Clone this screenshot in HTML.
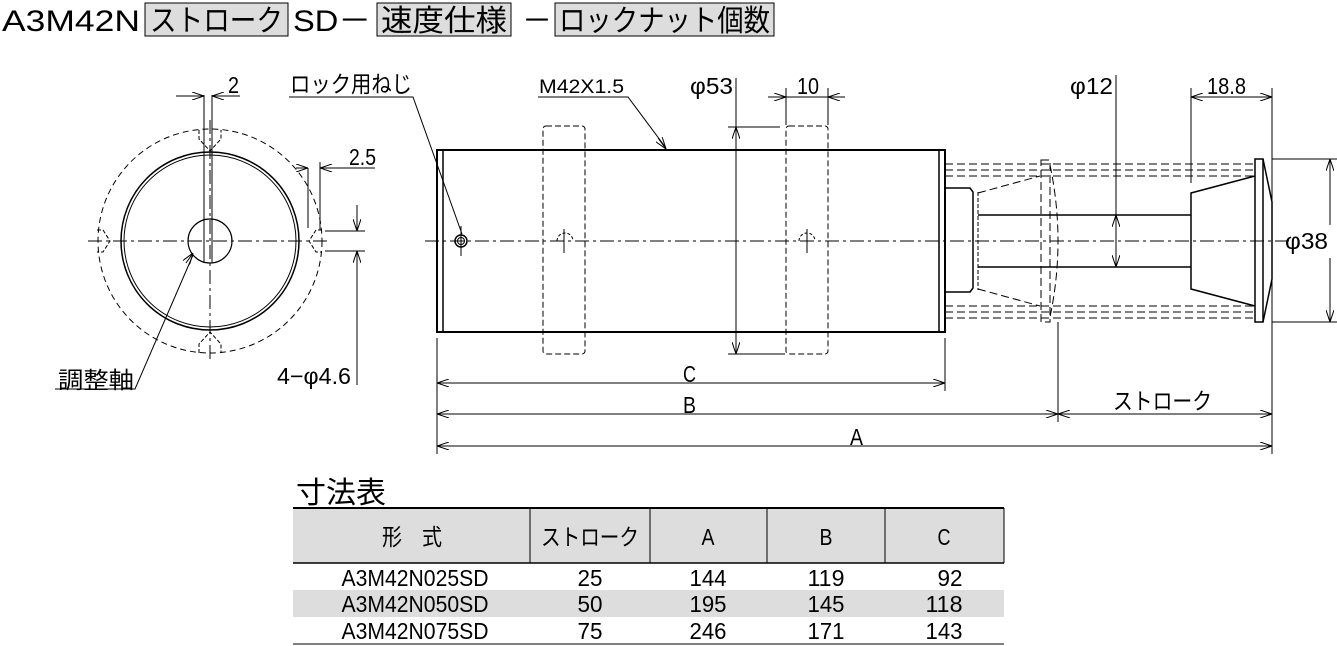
<!DOCTYPE html>
<html><head><meta charset="utf-8"><style>
html,body{margin:0;padding:0;background:#fff;}
svg{display:block;}
text{font-family:"Liberation Sans","Noto Sans CJK JP",sans-serif;fill:#000;}
</style></head><body>
<svg width="1337" height="646" viewBox="0 0 1337 646" xmlns="http://www.w3.org/2000/svg">
<defs>
<marker id="ar" viewBox="0 0 12 8" refX="12" refY="4" markerWidth="12" markerHeight="8" orient="auto-start-reverse" markerUnits="userSpaceOnUse"><path d="M0,0 L12,4 L0,8" fill="none" stroke="#000" stroke-width="1"/></marker>
</defs>
<rect x="145" y="3" width="143" height="33" fill="#ddd" stroke="#000"/>
<rect x="377" y="3" width="134" height="33" fill="#ddd" stroke="#000"/>
<rect x="555" y="3" width="219" height="33" fill="#ddd" stroke="#000"/>
<g font-size="30">
<text x="2" y="31" textLength="138" lengthAdjust="spacingAndGlyphs">A3M42N</text>
<text x="150" y="31" textLength="133" lengthAdjust="spacingAndGlyphs">ストローク</text>
<text x="293" y="31" textLength="78" lengthAdjust="spacingAndGlyphs">SD－</text>
<text x="381" y="31" textLength="126" lengthAdjust="spacingAndGlyphs">速度仕様</text>
<text x="522" y="31">－</text>
<text x="559" y="31" textLength="211" lengthAdjust="spacingAndGlyphs">ロックナット個数</text>
</g>

<g fill="none" stroke="#000" stroke-width="1">
<circle cx="210" cy="241" r="112" stroke-dasharray="6,4"/>
<circle cx="210" cy="241" r="89" stroke-width="1.5"/>
<circle cx="210" cy="241" r="86" stroke-width="1"/>
<circle cx="210" cy="241" r="22" stroke-width="1.2"/>
<line x1="204" y1="220" x2="204" y2="262"/><line x1="212" y1="220" x2="212" y2="262"/>
<line x1="210" y1="120" x2="210" y2="360" stroke-dasharray="14,4,3,4"/>
<line x1="88" y1="241" x2="330" y2="241" stroke-dasharray="14,4,3,4"/>
<line x1="204" y1="95" x2="204" y2="230"/><line x1="212" y1="95" x2="212" y2="230"/>
<path d="M199,130 v9 l11,12 l11,-12 v-9" stroke-dasharray="4,2"/>
<path d="M199,353 v-9 l11,-12 l11,12 v9" stroke-dasharray="4,2"/>
<path d="M97,230 h6 l7,11 l-7,11 h-6" stroke-dasharray="4,2"/>
<path d="M322,230 h-6 l-7,11 l7,11 h6" stroke-dasharray="4,2"/>
<line x1="176" y1="96" x2="204" y2="96" marker-end="url(#ar)"/>
<line x1="240" y1="96" x2="212" y2="96" marker-end="url(#ar)"/>
<line x1="296" y1="168" x2="308" y2="168" marker-end="url(#ar)"/>
<line x1="375" y1="168" x2="320" y2="168" marker-end="url(#ar)"/>
<line x1="308" y1="168" x2="308" y2="228"/><line x1="320" y1="162" x2="320" y2="230"/>
<line x1="325" y1="231" x2="365" y2="231"/><line x1="325" y1="251" x2="365" y2="251"/>
<line x1="357" y1="205" x2="357" y2="231" marker-end="url(#ar)"/>
<line x1="357" y1="385" x2="357" y2="251" marker-end="url(#ar)"/>
<polyline points="55,389 135,389 193,255" /><line x1="186" y1="263" x2="193" y2="253" marker-end="url(#ar)"/>
<polyline points="289,97 413,97 462,234"/>

<rect x="437" y="150" width="508" height="182" stroke-width="2"/>
<line x1="443" y1="150" x2="443" y2="332" stroke-width="1.5"/>
<line x1="939" y1="150" x2="939" y2="332" stroke-width="1.5"/>
<line x1="425" y1="241" x2="1290" y2="241" stroke-dasharray="14,4,3,4"/>
<circle cx="461" cy="241" r="6" stroke-width="1.5"/><circle cx="461" cy="241" r="3.5"/>
<line x1="461" y1="226" x2="461" y2="256"/>
<rect x="543" y="126" width="42" height="228" rx="3" stroke-dasharray="6,3"/>
<rect x="786" y="126" width="42" height="228" rx="3" stroke-dasharray="6,3"/>
<path d="M557,241 a8,8 0 0 1 16,0" stroke-dasharray="3,2"/>
<path d="M799,241 a8,8 0 0 1 16,0" stroke-dasharray="3,2"/>
<line x1="564" y1="229" x2="564" y2="253"/><line x1="807" y1="229" x2="807" y2="253"/>
<path d="M945,188 h25 l3,4 v96 l-3,4 h-25" stroke-width="1.5"/>
<line x1="978" y1="215" x2="1191" y2="215" stroke-width="1.5"/>
<line x1="978" y1="267" x2="1191" y2="267" stroke-width="1.5"/>
<line x1="978" y1="192" x2="978" y2="290" stroke-dasharray="4,2"/>
<path d="M1255,176 L1191,193 V289 L1255,306" stroke-width="1.5"/>
<rect x="1255" y="159" width="8" height="163" stroke-width="1.5"/>
<path d="M1263,159 L1272,202 V279 L1263,322" stroke-width="1.5"/>
<g stroke-dasharray="8,4">
<line x1="945" y1="164" x2="1255" y2="164"/><line x1="945" y1="170" x2="1255" y2="170"/><line x1="945" y1="176" x2="1255" y2="176"/>
<line x1="945" y1="306" x2="1255" y2="306"/><line x1="945" y1="312" x2="1255" y2="312"/><line x1="945" y1="318" x2="1255" y2="318"/>
<line x1="978" y1="193" x2="1040" y2="176"/><line x1="978" y1="289" x2="1040" y2="306"/>
<rect x="1041" y="160" width="9" height="162"/>
<path d="M1050,165 Q1066,241 1050,317"/>
</g>
<line x1="736" y1="78" x2="736" y2="354"/>
<line x1="736" y1="140" x2="736" y2="127" marker-end="url(#ar)"/>
<line x1="736" y1="340" x2="736" y2="354" marker-end="url(#ar)"/>
<line x1="728" y1="127" x2="780" y2="127"/>
<line x1="728" y1="354" x2="785" y2="354"/>
<line x1="786" y1="88" x2="786" y2="125"/><line x1="828" y1="88" x2="828" y2="125"/>
<line x1="768" y1="97" x2="786" y2="97" marker-end="url(#ar)"/>
<line x1="845" y1="97" x2="828" y2="97" marker-end="url(#ar)"/>
<line x1="786" y1="97" x2="828" y2="97"/>
<polyline points="538,97 628,97 666,148"/><line x1="658" y1="138" x2="666" y2="149" marker-end="url(#ar)"/>
<line x1="1116" y1="75" x2="1116" y2="267"/>
<line x1="1116" y1="230" x2="1116" y2="215" marker-end="url(#ar)"/>
<line x1="1116" y1="252" x2="1116" y2="267" marker-end="url(#ar)"/>
<line x1="1191" y1="88" x2="1191" y2="183"/>
<line x1="1272" y1="88" x2="1272" y2="454"/>
<line x1="1191" y1="97" x2="1272" y2="97" marker-start="url(#ar)" marker-end="url(#ar)"/>
<line x1="1272" y1="159" x2="1337" y2="159"/><line x1="1272" y1="322" x2="1337" y2="322"/>
<line x1="1330" y1="159" x2="1330" y2="225" marker-start="url(#ar)"/>
<line x1="1330" y1="258" x2="1330" y2="322" marker-end="url(#ar)"/>
<line x1="437" y1="338" x2="437" y2="454"/>
<line x1="945" y1="338" x2="945" y2="391"/>
<line x1="1058" y1="322" x2="1058" y2="422"/>
<line x1="437" y1="383" x2="945" y2="383" marker-start="url(#ar)" marker-end="url(#ar)"/>
<line x1="437" y1="414" x2="1058" y2="414" marker-start="url(#ar)" marker-end="url(#ar)"/>
<line x1="1058" y1="414" x2="1272" y2="414" marker-start="url(#ar)" marker-end="url(#ar)"/>
<line x1="437" y1="446" x2="1272" y2="446" marker-start="url(#ar)" marker-end="url(#ar)"/>
</g>

<g font-size="23">
<text x="228" y="93" textLength="11" lengthAdjust="spacingAndGlyphs">2</text>
<text x="349" y="165" textLength="27" lengthAdjust="spacingAndGlyphs">2.5</text>
<text x="277" y="384" textLength="74" lengthAdjust="spacingAndGlyphs">4−φ4.6</text>
<text x="58" y="388" textLength="76" lengthAdjust="spacingAndGlyphs">調整軸</text>
<text x="290" y="92" textLength="122" lengthAdjust="spacingAndGlyphs">ロック用ねじ</text>
<text x="539" y="93" font-size="19" textLength="85" lengthAdjust="spacingAndGlyphs">M42X1.5</text>
<text x="690" y="94" textLength="43" lengthAdjust="spacingAndGlyphs">φ53</text>
<text x="797" y="94" textLength="22" lengthAdjust="spacingAndGlyphs">10</text>
<text x="1070" y="94" textLength="43" lengthAdjust="spacingAndGlyphs">φ12</text>
<text x="1207" y="94" textLength="39" lengthAdjust="spacingAndGlyphs">18.8</text>
<text x="1285" y="249" textLength="43" lengthAdjust="spacingAndGlyphs">φ38</text>
<text x="683" y="382" textLength="13" lengthAdjust="spacingAndGlyphs">C</text>
<text x="683" y="413" textLength="13" lengthAdjust="spacingAndGlyphs">B</text>
<text x="850" y="445" textLength="13" lengthAdjust="spacingAndGlyphs">A</text>
<text x="1113" y="409" textLength="99" lengthAdjust="spacingAndGlyphs">ストローク</text>
</g>

<text x="296" y="503" font-size="30" textLength="90" lengthAdjust="spacingAndGlyphs">寸法表</text>
<rect x="293" y="508" width="711" height="55" fill="#ddd"/>
<rect x="293" y="590" width="711" height="27" fill="#ddd"/>
<g stroke="#000" fill="none">
<line x1="293" y1="508" x2="1004" y2="508" stroke-width="2"/>
<line x1="293" y1="563" x2="1004" y2="563" stroke-width="1.5"/>
<line x1="293" y1="644" x2="1004" y2="644" stroke-width="1"/>
<line x1="530" y1="508" x2="530" y2="563"/><line x1="650" y1="508" x2="650" y2="563"/>
<line x1="767" y1="508" x2="767" y2="563"/><line x1="885" y1="508" x2="885" y2="563"/>
<line x1="1004" y1="508" x2="1004" y2="563"/>
</g>
<g font-size="23" text-anchor="middle">
<text x="412" y="545" textLength="60" lengthAdjust="spacingAndGlyphs">形　式</text>
<text x="590" y="545" textLength="98" lengthAdjust="spacingAndGlyphs">ストローク</text>
<text x="708" y="545" textLength="13" lengthAdjust="spacingAndGlyphs">A</text><text x="826" y="545" textLength="13" lengthAdjust="spacingAndGlyphs">B</text><text x="944" y="545" textLength="13" lengthAdjust="spacingAndGlyphs">C</text>
</g>
<g font-size="23" text-anchor="middle">
<text x="415" y="586" textLength="147" lengthAdjust="spacingAndGlyphs">A3M42N025SD</text><text x="590" y="586" textLength="25" lengthAdjust="spacingAndGlyphs">25</text><text x="708" y="586" textLength="37" lengthAdjust="spacingAndGlyphs">144</text><text x="826" y="586" textLength="37" lengthAdjust="spacingAndGlyphs">119</text><text x="950" y="586" textLength="25" lengthAdjust="spacingAndGlyphs">92</text>
<text x="415" y="612" textLength="147" lengthAdjust="spacingAndGlyphs">A3M42N050SD</text><text x="590" y="612" textLength="25" lengthAdjust="spacingAndGlyphs">50</text><text x="708" y="612" textLength="37" lengthAdjust="spacingAndGlyphs">195</text><text x="826" y="612" textLength="37" lengthAdjust="spacingAndGlyphs">145</text><text x="944" y="612" textLength="37" lengthAdjust="spacingAndGlyphs">118</text>
<text x="415" y="639" textLength="147" lengthAdjust="spacingAndGlyphs">A3M42N075SD</text><text x="590" y="639" textLength="25" lengthAdjust="spacingAndGlyphs">75</text><text x="708" y="639" textLength="37" lengthAdjust="spacingAndGlyphs">246</text><text x="826" y="639" textLength="37" lengthAdjust="spacingAndGlyphs">171</text><text x="944" y="639" textLength="37" lengthAdjust="spacingAndGlyphs">143</text>
</g>
</svg>
</body></html>
